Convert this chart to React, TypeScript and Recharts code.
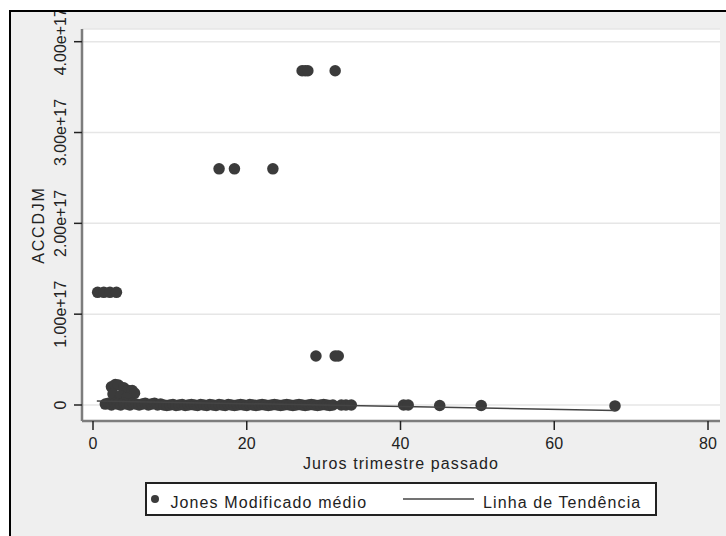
import { ScatterChart, Scatter, XAxis, YAxis, CartesianGrid, Legend } from "recharts";

// Jones Modificado médio (ACCDJM) vs juros do trimestre passado
const jonesX = [
  0.6, 1.4, 2.2, 3.05,
  2.4, 2.9, 3.3, 4.0, 4.6, 5.1, 5.4, 2.6, 3.6, 4.4,
  16.4, 18.4, 23.4,
  27.2, 27.6, 27.95, 31.5,
  29.0, 31.5, 31.9,
  1.6, 2.0, 2.4, 2.8, 3.2, 3.6, 4.0, 4.4, 4.8, 5.2, 5.6, 6.0, 6.4, 6.8, 7.2, 7.6, 8.0, 8.4, 8.8, 9.2,
  9.6, 10.0, 10.4, 10.8, 11.2, 11.6, 12.0, 12.4, 12.8, 13.2, 13.6, 14.0, 14.4, 14.8, 15.2, 15.6,
  16.0, 16.4, 16.8, 17.2, 17.6, 18.0, 18.4, 18.8, 19.2, 19.6, 20.0, 20.4, 20.8, 21.2, 21.6,
  22.0, 22.4, 22.8, 23.2, 23.6, 24.0, 24.4, 24.8, 25.2, 25.6, 26.0, 26.4, 26.8, 27.2, 27.6,
  28.0, 28.4, 28.8, 29.2, 29.6, 30.0, 30.4, 30.8, 31.2, 32.3, 32.9, 33.6,
  40.4, 41.0, 45.1, 50.5, 67.9,
];
const jonesY = [
  1.24e17, 1.24e17, 1.24e17, 1.24e17,
  0.2e17, 0.225e17, 0.22e17, 0.19e17, 0.16e17, 0.16e17, 0.13e17, 0.12e17, 0.1e17, 0.08e17,
  2.6e17, 2.6e17, 2.6e17,
  3.68e17, 3.68e17, 3.68e17, 3.68e17,
  0.54e17, 0.54e17, 0.54e17,
  0.01e17, 0.02e17, 0.0, 0.02e17, 0.01e17, 0.0, 0.02e17, 0.01e17, 0.0, 0.02e17, 0.01e17, 0.0, 0.01e17, 0.02e17, 0.0, 0.01e17, 0.02e17, 0.0, 0.01e17, 0.0,
  -0.005e17, 0.0, 0.005e17, -0.005e17, 0.0, 0.005e17, -0.005e17, 0.0, 0.005e17, 0.0, -0.005e17, 0.005e17, 0.0, -0.005e17, 0.005e17, 0.0,
  -0.005e17, 0.005e17, 0.0, -0.005e17, 0.005e17, 0.0, -0.005e17, 0.0, 0.005e17, 0.0, -0.005e17, 0.005e17, 0.0, -0.005e17, 0.0,
  0.005e17, 0.0, -0.005e17, 0.0, 0.005e17, 0.0, -0.005e17, 0.0, 0.005e17, 0.0, -0.005e17, 0.0, 0.005e17, 0.0, -0.005e17,
  0.0, 0.005e17, 0.0, -0.005e17, 0.0, 0.005e17, 0.0, -0.005e17, 0.0, 0.0, 0.0, 0.0,
  0.0, 0.0, -0.005e17, -0.005e17, -0.01e17,
];

// Linha de Tendência
const trendX = [0.5, 67.9];
const trendY = [0.044e17, -0.06e17];

const xTicks = [0, 20, 40, 60, 80];
const yTicks = [0, 1e17, 2e17, 3e17, 4e17];

const jones = jonesX.map((x, i) => ({ x, y: jonesY[i] }));
const trend = trendX.map((x, i) => ({ x, y: trendY[i] }));

const INK = "#3b3b3b";
const TXT = "#222";
const FONT = "'Liberation Sans', Arial, sans-serif";

const fmtY = (v: number) => (v === 0 ? "0" : v.toExponential(2));

const YTick = ({ y, payload }: any) => (
  <text
    x={66}
    y={y}
    transform={`rotate(-90, 66, ${y})`}
    textAnchor="middle"
    fontSize={16}
    fontFamily={FONT}
    fill={TXT}
  >
    {fmtY(payload.value)}
  </text>
);

const Dot = (p: any) => <circle cx={p.cx} cy={p.cy} r={5.75} fill={INK} />;

const LegendBox = () => (
  <svg width={512} height={34} style={{ display: "block" }}>
    <rect x={1} y={1} width={510} height={32} fill="#fff" stroke="#222" strokeWidth={2} />
    <circle cx={10} cy={17} r={4} fill={INK} />
    <text x={25.5} y={25.5} fontSize={16} fontFamily={FONT} fill={TXT} style={{ letterSpacing: 1.1 }}>
      Jones Modificado médio
    </text>
    <line x1={258} x2={329} y1={17} y2={17} stroke="#444" strokeWidth={1.5} />
    <text x={338} y={25.5} fontSize={16} fontFamily={FONT} fill={TXT} style={{ letterSpacing: 1.1 }}>
      Linha de Tendência
    </text>
  </svg>
);

export default function App() {
  return (
    <div style={{ position: "absolute", left: 0, top: 0, width: 726, height: 536, background: "#fff", overflow: "hidden" }}>
      <div
        style={{
          position: "absolute",
          left: 9,
          top: 10,
          right: 0,
          bottom: 0,
          borderLeft: "2px solid #000",
          borderTop: "2px solid #000",
          background: "#efefef",
          overflow: "hidden",
        }}
      >
        <div style={{ position: "absolute", left: -11, top: -12, width: 726, height: 536 }}>
          <ScatterChart width={726} height={536} margin={{ top: 29, right: 6, bottom: 65, left: 12 }}>
            <CartesianGrid vertical={false} fill="#fff" stroke="#e6e6e6" strokeWidth={1.5} />
            <XAxis
              type="number"
              dataKey="x"
              domain={[-1.431, 81.56]}
              allowDataOverflow
              ticks={xTicks}
              interval={0}
              height={50}
              axisLine={{ stroke: "#7d7d7d", strokeWidth: 2.5 }}
              tickLine={{ stroke: TXT, strokeWidth: 1.5 }}
              tickSize={9}
              tickMargin={8}
              tick={{ fontSize: 16, fontFamily: FONT, fill: TXT }}
            />
            <YAxis
              type="number"
              dataKey="y"
              domain={[-0.1762e17, 4.1398e17]}
              allowDataOverflow
              ticks={yTicks}
              interval={0}
              width={70}
              axisLine={{ stroke: "#7d7d7d", strokeWidth: 2.5 }}
              tickLine={{ stroke: TXT, strokeWidth: 1.5 }}
              tickSize={8}
              tick={<YTick />}
            />
            <Legend
              layout="horizontal"
              verticalAlign="middle"
              align="center"
              content={<LegendBox />}
              wrapperStyle={{ left: 145, top: 482, width: 512, height: 34 }}
            />
            <Scatter name="Jones Modificado médio" data={jones} fill={INK} shape={Dot} isAnimationActive={false} />
            <Scatter
              name="Linha de Tendência"
              data={trend}
              fill="#444"
              line={{ stroke: "#444", strokeWidth: 1.5 }}
              shape={() => <g />}
              isAnimationActive={false}
            />
          </ScatterChart>
          {/* axis titles */}
          <svg width={726} height={536} style={{ position: "absolute", left: 0, top: 0, pointerEvents: "none" }}>
            <text x={401} y={469} textAnchor="middle" fontSize={16} fontFamily={FONT} fill={TXT} style={{ letterSpacing: 1.1 }}>
              Juros trimestre passado
            </text>
            <text
              x={44}
              y={225}
              transform="rotate(-90, 44, 225)"
              textAnchor="middle"
              fontSize={16}
              fontFamily={FONT}
              fill={TXT}
              style={{ letterSpacing: 1.8 }}
            >
              ACCDJM
            </text>
          </svg>
        </div>
      </div>
    </div>
  );
}
